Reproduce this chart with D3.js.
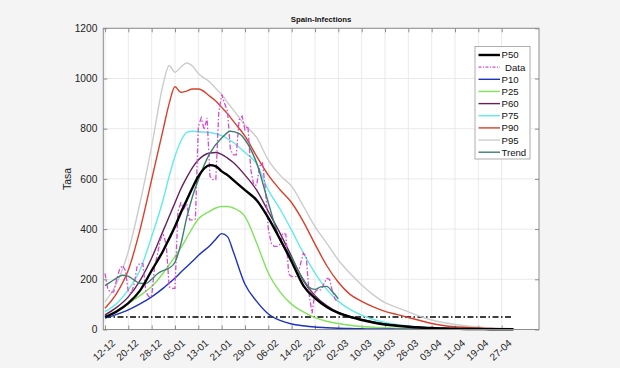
<!DOCTYPE html>
<html><head><meta charset="utf-8">
<script src="https://cdn.jsdelivr.net/npm/d3@7"></script>
<style>
body{margin:0;background:#f4f4f4;}
svg{display:block;font-family:"Liberation Sans",Arial,Helvetica,sans-serif;}
</style>
</head><body>
<svg id="c" width="620" height="368"></svg>
<script>
// ---------- DATA ----------
const title = "Spain-Infections";
const yLabel = "Tasa";
const tickDays = [0,8,16,24,32,40,48,56,64,72,80,88,96,104,112,120,128,136];
const tickLabels = ["12-12","20-12","28-12","05-01","13-01","21-01","29-01","06-02","14-02","22-02","02-03","10-03","18-03","26-03","03-04","11-04","19-04","27-04"];
const yTicks = [0,200,400,600,800,1000,1200];

// days since 12-12 for the percentile curves
const pctDays = [0,4,8,12,16,20,22,24,26,28,30,32,36,38,40,42,44,48,52,56,60,64,68,72,76,80,84,88,92,96,100,104,108,112,116,120,124,128,132,136,140];
const p50 = [50,72,105,155,235,315, 362,410,465,515,565,610, 655,650,630,615,595, 555,515,445,360,270,175,125,90,66, 50,38,28,20,15,11,8,6,4,3,2,2,1,1,1];
const p10 = [45,60,78,102,130,165, 185,205,228,250,272,295, 335,360,382,370,310, 180,112,62,36,22,15,10,7,5, 4,3,2,2,1.5,1,1,1,1,0.5,0.5,0.5,0.5,0.5,0.5];
const p25 = [48,75,104,135,171,225, 258,290,325,365,405,440, 472,484,490,490,484, 450,345,225,150,100,70,47,33,24, 17,12,9,7,5,4,3,2,2,1,1,1,1,0.5,0.5];
const p60 = [58,88,130,195,285,395, 450,505,560,605,645,675, 703,705,698,683,665, 615,555,470,384,290,195,135,95,68, 52,40,30,22,16,12,9,7,5,4,3,2,2,1,1];
const p75 = [71,104,158,237,370,520, 610,690,750,785,790,788, 785,780,772,760,745, 705,660,555,480,395,305,225,160,112, 80,57,40,28,20,14,10,7,5,4,3,2,2,1,1];
const p90 = [85,144,237,397,597,800, 900,967,945,950,958,958, 929,910,885,860,830, 770,690,615,557,505,430,340,255,188, 140,112,90,72,60,48,36,24,16,11,8,6,4,3,2];
const p95 = [110,184,311,504,730,980, 1052,1025,1045,1062,1050,1020, 985,960,937,905,875, 815,765,675,615,570,492,410,344,277, 224,177,138,107,88,70,52,38,28,20,14,10,7,5,3];

// daily observed data (days 0..80)
const dataValues = [224,160,148,150,200,240,255,235,150,144,
  180,250,264,262,150,131,131,250,300,360,
  377,340,170,164,164,470,504,480,500,437,
  437,440,809,843,796,843,610,597,597,863,
  936,900,870,716,696,696,836,850,796,810,
  636,575,575,650,663,560,400,344,331,331,
  340,384,380,220,211,211,211,260,304,290,
  140,64,150,160,158,180,204,200,150,118,111];

const trendDays = [0,2,4,6,8,10,12,14,16,18,20,22,24,26,28,30,32,36,40,43,46,48,52,56,60,62,64,66,68,70,72,74,76,78,80];
const trendValues = [175,190,205,216,212,197,184,183,200,222,235,245,268,340,445,530,597,703,763,790,780,756,663,505,357,320,285,240,200,168,160,170,172,150,122];

const thresholdValue = 50;

// ---------- CHART ----------
const svg = d3.select("#c");
const m = {left:103.3, right:539, top:28.3, bottom:329.5};
const x = d3.scaleLinear().domain([-0.58,148.8]).range([m.left,m.right]);
const y = d3.scaleLinear().domain([0,1200]).range([m.bottom,m.top]);

svg.append("rect").attr("x",m.left).attr("y",m.top)
  .attr("width",m.right-m.left).attr("height",m.bottom-m.top).attr("fill","#fff");

// grid
const grid = svg.append("g").attr("stroke","#e4e4e4").attr("stroke-width",0.8);
tickDays.forEach(d=>grid.append("line").attr("x1",x(d)).attr("x2",x(d)).attr("y1",m.top).attr("y2",m.bottom));
yTicks.forEach(v=>grid.append("line").attr("x1",m.left).attr("x2",m.right).attr("y1",y(v)).attr("y2",y(v)));

// axes
const axisColor = "#8c8c8c";
const gx = svg.append("g").attr("transform",`translate(0,${m.bottom})`)
  .call(d3.axisBottom(x).tickValues(tickDays).tickFormat((d,i)=>tickLabels[i]).tickSizeInner(-4).tickSizeOuter(0));
const gxt = svg.append("g").attr("transform",`translate(0,${m.top})`)
  .call(d3.axisTop(x).tickValues(tickDays).tickFormat("").tickSizeInner(-4).tickSizeOuter(0));
const gy = svg.append("g").attr("transform",`translate(${m.left},0)`)
  .call(d3.axisLeft(y).tickValues(yTicks).tickFormat(d3.format("d")).tickSizeInner(-4).tickSizeOuter(0).tickPadding(6));
const gyr = svg.append("g").attr("transform",`translate(${m.right},0)`)
  .call(d3.axisRight(y).tickValues(yTicks).tickFormat("").tickSizeInner(-4).tickSizeOuter(0));
[gx,gxt,gy,gyr].forEach(g=>{
  g.select(".domain").remove();
  g.selectAll(".tick line").attr("stroke",axisColor);
});
gy.selectAll("text").attr("font-size",10.2).attr("fill","#222").attr("font-family","Liberation Sans, Arial, sans-serif");
gx.selectAll("text")
  .attr("font-size",10).attr("fill","#222").attr("font-family","Liberation Sans, Arial, sans-serif")
  .attr("y",0).attr("dy","0.35em")
  .attr("transform","translate(8,12) rotate(-42)")
  .style("text-anchor","end");

// lines
const lineP = d3.line().x((d,i)=>x(pctDays[i])).y(d=>y(d)).curve(d3.curveMonotoneX);
const series = [
  {name:"P95", vals:p95, color:"#cccccc", w:1.4},
  {name:"P90", vals:p90, color:"#d8402c", w:1.4},
  {name:"P75", vals:p75, color:"#62eaea", w:1.4},
  {name:"P25", vals:p25, color:"#7fe35c", w:1.4},
  {name:"P10", vals:p10, color:"#1c33bb", w:1.4},
  {name:"P60", vals:p60, color:"#66205c", w:1.4},
];
const plot = svg.append("g");

// threshold dash-dot
plot.append("line").attr("x1",x(pctDays[0])).attr("x2",x(pctDays[pctDays.length-1]))
  .attr("y1",y(thresholdValue)).attr("y2",y(thresholdValue))
  .attr("stroke","#000").attr("stroke-width",1.5).attr("stroke-dasharray","6,2.5,1.5,2.5");

series.forEach(s=>{
  plot.append("path").datum(s.vals).attr("d",lineP).attr("fill","none")
    .attr("stroke",s.color).attr("stroke-width",s.w);
});

// data (dash-dot magenta)
const lineD = d3.line().x((d,i)=>x(i)).y(d=>y(d));
plot.append("path").datum(dataValues).attr("d",lineD).attr("fill","none")
  .attr("stroke","#d54bd5").attr("stroke-width",1.3).attr("stroke-dasharray","5,2,1.5,2");

// trend
const lineT = d3.line().x((d,i)=>x(trendDays[i])).y(d=>y(d)).curve(d3.curveMonotoneX);
plot.append("path").datum(trendValues).attr("d",lineT).attr("fill","none")
  .attr("stroke","#3d7f6e").attr("stroke-width",1.4);

// P50 thick black
plot.append("path").datum(p50).attr("d",lineP).attr("fill","none")
  .attr("stroke","#000").attr("stroke-width",2.4);

// frame
svg.append("rect").attr("x",m.left).attr("y",m.top)
  .attr("width",m.right-m.left).attr("height",m.bottom-m.top)
  .attr("fill","none").attr("stroke",axisColor).attr("stroke-width",1);

// title and y label
svg.append("text").attr("x",(m.left+m.right)/2).attr("y",22).attr("text-anchor","middle")
  .attr("font-size",7.8).attr("font-weight","bold").attr("fill","#111").text(title);
svg.append("text").attr("transform",`translate(71,${(m.top+m.bottom)/2}) rotate(-90)`)
  .attr("text-anchor","middle").attr("font-size",10.5).attr("fill","#222").text(yLabel);

// legend
const legendItems = [
  {name:"P50", color:"#000", w:2.4},
  {name:"Data", color:"#d54bd5", w:1.3, dash:"3,1.5,1,1.5"},
  {name:"P10", color:"#1c33bb", w:1.4},
  {name:"P25", color:"#7fe35c", w:1.4},
  {name:"P60", color:"#66205c", w:1.4},
  {name:"P75", color:"#62eaea", w:1.4},
  {name:"P90", color:"#d8402c", w:1.4},
  {name:"P95", color:"#cccccc", w:1.4},
  {name:"Trend", color:"#3d7f6e", w:1.4},
];
const lg = svg.append("g");
lg.append("rect").attr("x",475).attr("y",46.5).attr("width",55).attr("height",112.5)
  .attr("fill","#fff").attr("stroke","#9a9a9a").attr("stroke-width",0.8);
legendItems.forEach((d,i)=>{
  const yy = 55 + i*12.15;
  lg.append("line").attr("x1",478.5).attr("x2",500).attr("y1",yy).attr("y2",yy)
    .attr("stroke",d.color).attr("stroke-width",d.w).attr("stroke-dasharray",d.dash||null);
  lg.append("text").attr("x",d.name==="Data"?505:501.5).attr("y",yy).attr("dy","0.36em")
    .attr("font-size",9.6).attr("fill","#111").text(d.name);
});
</script>
</body></html>
